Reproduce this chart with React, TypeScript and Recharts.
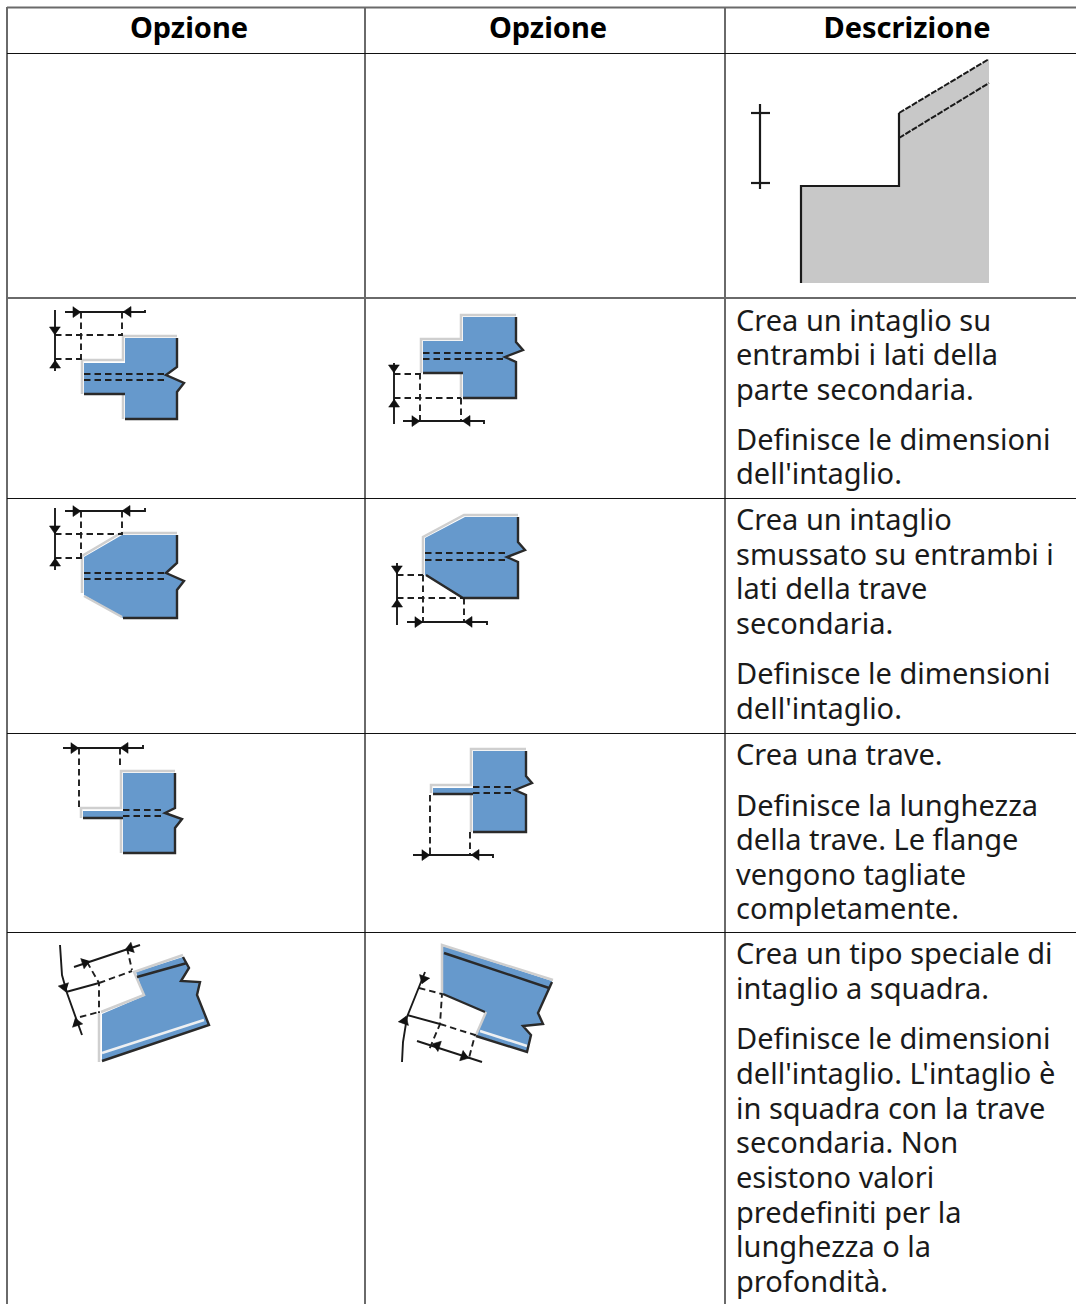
import React from 'react';
import { ComposedChart, Scatter, XAxis, YAxis } from 'recharts';

type Pt = [number, number];

const WIDTH = 1076;
const HEIGHT = 1304;

// table rules, in page pixels
const columnRules = [7, 365, 725];
const softRowRules = [7.5, 298];
const crispRowRules = [53.5, 498.5, 733.5, 932.5];

const headers = ['Opzione', 'Opzione', 'Descrizione'];
const headerCenters = [189, 548, 907];

const descriptionLines: [number, string][] = [
  [331, 'Crea un intaglio su'],
  [365, 'entrambi i lati della'],
  [400, 'parte secondaria.'],
  [450, 'Definisce le dimensioni'],
  [484, "dell'intaglio."],
  [530, 'Crea un intaglio'],
  [565, 'smussato su entrambi i'],
  [599, 'lati della trave'],
  [634, 'secondaria.'],
  [684, 'Definisce le dimensioni'],
  [719, "dell'intaglio."],
  [765, 'Crea una trave.'],
  [816, 'Definisce la lunghezza'],
  [850, 'della trave. Le flange'],
  [885, 'vengono tagliate'],
  [919, 'completamente.'],
  [964, 'Crea un tipo speciale di'],
  [999, 'intaglio a squadra.'],
  [1049, 'Definisce le dimensioni'],
  [1084, "dell'intaglio. L'intaglio è"],
  [1119, 'in squadra con la trave'],
  [1153, 'secondaria. Non'],
  [1188, 'esistono valori'],
  [1223, 'predefiniti per la'],
  [1257, 'lunghezza o la'],
  [1292, 'profondità.'],
];

// top right drawing
const grayShape: Pt[] = [[801, 283], [801, 186], [899, 186], [899, 113], [989, 59], [989, 283]];
const grayEdges: Pt[][] = [
  [[801, 283], [801, 186], [899, 186], [899, 113]],
  [[760, 104], [760, 189]],
  [[751, 113], [770, 113]],
  [[751, 183], [770, 183]],
];
const grayHatch: Pt[][] = [
  [[899, 113], [989, 59]],
  [[899, 138], [989, 83]],
];

// blue profiles, rows 1-4, left and right column
const blueShapes: Pt[][] = [
  [[84, 363], [125, 363], [125, 338], [177, 338], [177, 367], [166, 375], [184, 383], [177, 392], [177, 419], [125, 419], [125, 394], [84, 394]],
  [[423, 341], [463, 341], [463, 317], [516, 317], [516, 342], [523, 350], [505, 357], [516, 362], [516, 398], [463, 398], [463, 373], [423, 373]],
  [[84, 557], [122, 535], [177, 535], [177, 563], [166, 573], [184, 581], [177, 590], [177, 618], [123, 618], [84, 595]],
  [[425, 538], [465, 517], [518, 517], [518, 542], [525, 550], [507, 557], [518, 562], [518, 598], [463, 598], [425, 575]],
  [[83, 811], [123, 811], [123, 773], [175, 773], [175, 808], [165, 813], [182, 819], [175, 828], [175, 853], [123, 853], [123, 817], [83, 817]],
  [[433, 788], [473, 788], [473, 751], [526, 751], [526, 776], [532, 783], [515, 790], [526, 795], [526, 832], [473, 832], [473, 793], [433, 793]],
  [[102, 1014], [144, 996], [136, 972], [183, 957], [189, 968], [181, 981], [200, 982], [197, 995], [209, 1025], [102, 1061]],
  [[443, 946], [552, 981], [546, 995], [538, 1013], [543, 1024], [523, 1026], [531, 1035], [527, 1052], [476, 1035], [486, 1012], [443, 994]],
];

const lightEdges: Pt[][] = [
  [[82, 394], [82, 360], [123, 360], [123, 336], [177, 336]],
  [[123, 394], [123, 419]],
  [[421, 373], [421, 339], [461, 339], [461, 315], [516, 315]],
  [[461, 373], [461, 398]],
  [[82, 593], [82, 556], [121, 533], [177, 533]],
  [[84, 596], [122, 617]],
  [[423, 575], [423, 537], [464, 515], [518, 515]],
  [[81, 818], [81, 808], [121, 808], [121, 771], [175, 771]],
  [[121, 818], [121, 853]],
  [[431, 793], [431, 785], [471, 785], [471, 749], [526, 749]],
  [[471, 795], [471, 832]],
  [[99, 1013], [99, 1062]],
  [[101, 1012], [144, 995], [134, 972], [183, 955]],
  [[442, 993], [442, 945], [553, 980]],
  [[486, 1012], [476, 1035]],
];

const whiteStripes: Pt[][] = [
  [[102, 1053], [204, 1020]],
  [[480, 1031], [527, 1046]],
];

const darkEdges: Pt[][] = [
  [[177, 338], [177, 367], [166, 375], [184, 383], [177, 392], [177, 419], [125, 419]],
  [[84, 394], [125, 394]],
  [[516, 317], [516, 342], [523, 350], [505, 357], [516, 362], [516, 398], [463, 398]],
  [[423, 373], [463, 373]],
  [[177, 535], [177, 563], [166, 573], [184, 581], [177, 590], [177, 618], [123, 618]],
  [[518, 517], [518, 542], [525, 550], [507, 557], [518, 562], [518, 598], [463, 598], [426, 575]],
  [[175, 773], [175, 808], [165, 813], [182, 819], [175, 828], [175, 853], [123, 853]],
  [[83, 818], [123, 818]],
  [[526, 751], [526, 776], [532, 783], [515, 790], [526, 795], [526, 832], [473, 832]],
  [[433, 794], [473, 794]],
  [[137, 977], [187, 963]],
  [[102, 1061], [209, 1025], [197, 995], [200, 982], [181, 981], [189, 968], [183, 957]],
  [[444, 953], [549, 988]],
  [[443, 994], [485, 1012]],
  [[476, 1036], [527, 1052], [531, 1035], [523, 1026], [543, 1024], [538, 1013], [552, 982]],
];

const dashedLines: Pt[][] = [
  [[84, 374], [166, 374]],
  [[84, 380], [166, 380]],
  [[81, 312], [81, 360]],
  [[122, 312], [122, 336]],
  [[55, 335], [122, 335]],
  [[55, 359], [82, 359]],
  [[423, 353], [505, 353]],
  [[423, 359], [505, 359]],
  [[420, 373], [420, 421]],
  [[461, 398], [461, 421]],
  [[394, 374], [421, 374]],
  [[394, 398], [461, 398]],
  [[84, 573], [166, 573]],
  [[84, 579], [166, 579]],
  [[81, 511], [81, 557]],
  [[122, 511], [122, 535]],
  [[55, 534], [122, 534]],
  [[55, 558], [82, 558]],
  [[425, 553], [507, 553]],
  [[425, 560], [507, 560]],
  [[423, 575], [423, 622]],
  [[464, 598], [464, 622]],
  [[397, 575], [423, 575]],
  [[397, 598], [463, 598]],
  [[123, 810], [165, 810]],
  [[123, 816], [165, 816]],
  [[79, 748], [79, 808]],
  [[120, 748], [120, 769]],
  [[473, 787], [515, 787]],
  [[473, 793], [515, 793]],
  [[430, 795], [430, 855]],
  [[470, 832], [470, 855]],
  [[87, 962], [99, 983], [99, 1013]],
  [[127, 948], [132, 970]],
  [[99, 983], [132, 971]],
  [[80, 1017], [99, 1012]],
  [[419, 988], [442, 994], [440, 1024], [429, 1050]],
  [[440, 1024], [475, 1035], [469, 1058]],
];

const dimensionLines: Pt[][] = [
  [[55, 310], [55, 371]],
  [[65, 312], [145, 312], [145, 310]],
  [[394, 363], [394, 424]],
  [[403, 421], [484, 421], [484, 424]],
  [[55, 508], [55, 570]],
  [[65, 511], [145, 511], [145, 508]],
  [[397, 563], [397, 625]],
  [[407, 622], [487, 622], [487, 625]],
  [[63, 748], [143, 748], [143, 745]],
  [[413, 855], [493, 855], [493, 858]],
  [[60, 945], [62, 975], [67, 993], [82, 1035]],
  [[74, 967], [140, 945]],
  [[66, 992], [99, 983]],
  [[425, 972], [419, 987], [407, 1017], [403, 1042], [402, 1062]],
  [[417, 1041], [482, 1062]],
  [[407, 1015], [440, 1024]],
];

// tip x, tip y, direction of travel in degrees (0 = right, 90 = down)
const arrowTips: [number, number, number][] = [
  [81, 312, 0], [123, 312, 180], [55, 335, 90], [55, 360, -90],
  [420, 421, 0], [462, 421, 180], [394, 373, 90], [394, 399, -90],
  [81, 511, 0], [122, 511, 180], [55, 534, 90], [55, 558, -90],
  [423, 622, 0], [464, 622, 180], [397, 574, 90], [397, 599, -90],
  [79, 748, 0], [120, 748, 180],
  [430, 855, 0], [471, 855, 180],
  [90, 961, -18], [125, 950, 162], [66, 992, 72], [75, 1018, -108],
  [422, 984, 110], [406, 1016, -70], [432, 1044, 198], [469, 1058, 18],
];

const toPoints = (pts: Pt[]) => pts.map(([x, y]) => ({ x, y }));

const arrowShape = ([x, y, deg]: [number, number, number]): Pt[] => {
  const a = (deg * Math.PI) / 180;
  const bx = x - Math.cos(a) * 8;
  const by = y - Math.sin(a) * 8;
  const nx = -Math.sin(a) * 5.5;
  const ny = Math.cos(a) * 5.5;
  return [[x, y], [bx + nx, by + ny], [bx - nx, by - ny]];
};

const softRules: Pt[][] = [
  ...columnRules.map((x): Pt[] => [[x, 7], [x, HEIGHT]]),
  ...softRowRules.map((y): Pt[] => [[7, y], [WIDTH, y]]),
];
const crispRules: Pt[][] = crispRowRules.map((y): Pt[] => [[7, y], [WIDTH, y]]);

const headerData = headers.map((text, i) => ({ x: headerCenters[i], y: 37.5, text }));
const bodyData = descriptionLines.map(([y, text]) => ({ x: 736, y, text }));

const noMark = () => <g />;

const renderPaths = (name: string, groups: Pt[][], style: Record<string, unknown>) =>
  groups.map((pts, i) => (
    <Scatter
      key={`${name}-${i}`}
      data={toPoints(pts)}
      line={{ fill: 'none', ...style }}
      shape={noMark}
      isAnimationActive={false}
    />
  ));

const HeaderText = (props: any) => (
  <text
    x={props.cx}
    y={props.cy}
    textAnchor="middle"
    fontFamily="'Noto Sans', sans-serif"
    fontWeight={700}
    fontSize={29}
    fill="#000"
  >
    {props.payload.text}
  </text>
);

const BodyText = (props: any) => (
  <text x={props.cx} y={props.cy} fontFamily="'Noto Sans', sans-serif" fontSize={29} fill="#1a1a1a">
    {props.payload.text}
  </text>
);

export default function App() {
  return (
    <div style={{ position: 'absolute', left: 0, top: 0, width: WIDTH, height: HEIGHT, background: '#fff', overflow: 'hidden' }}>
      <ComposedChart width={WIDTH} height={HEIGHT} margin={{ top: 0, right: 0, bottom: 0, left: 0 }}>
        <XAxis type="number" dataKey="x" domain={[0, WIDTH]} hide />
        <YAxis type="number" dataKey="y" domain={[0, HEIGHT]} reversed hide width={0} />

        {renderPaths('gray', [grayShape], { fill: '#c8c8c8', stroke: 'none' })}
        {renderPaths('blue', blueShapes, { fill: '#6699cc', stroke: 'none' })}
        {renderPaths('light', lightEdges, { stroke: '#cfcfcf', strokeWidth: 2.5 })}
        {renderPaths('white', whiteStripes, { stroke: '#eef0f2', strokeWidth: 2.5 })}
        {renderPaths('dark', darkEdges, { stroke: '#2a2a2a', strokeWidth: 2.4 })}
        {renderPaths('grayEdge', grayEdges, { stroke: '#1a1a1a', strokeWidth: 2.2 })}
        {renderPaths('hatch', grayHatch, { stroke: '#1a1a1a', strokeWidth: 2, strokeDasharray: '6 1.5' })}
        {renderPaths('dash', dashedLines, { stroke: '#1f1f1f', strokeWidth: 1.9, strokeDasharray: '6.5 4' })}
        {renderPaths('dim', dimensionLines, { stroke: '#1a1a1a', strokeWidth: 1.9 })}
        {renderPaths('arrow', arrowTips.map(arrowShape), { fill: '#111', stroke: '#111', strokeWidth: 0.6 })}
        {renderPaths('softRule', softRules, { stroke: '#6a6a6a', strokeWidth: 2 })}
        {renderPaths('crispRule', crispRules, { stroke: '#111', strokeWidth: 1.2 })}

        <Scatter data={headerData} shape={HeaderText} isAnimationActive={false} />
        <Scatter data={bodyData} shape={BodyText} isAnimationActive={false} />
      </ComposedChart>
    </div>
  );
}
